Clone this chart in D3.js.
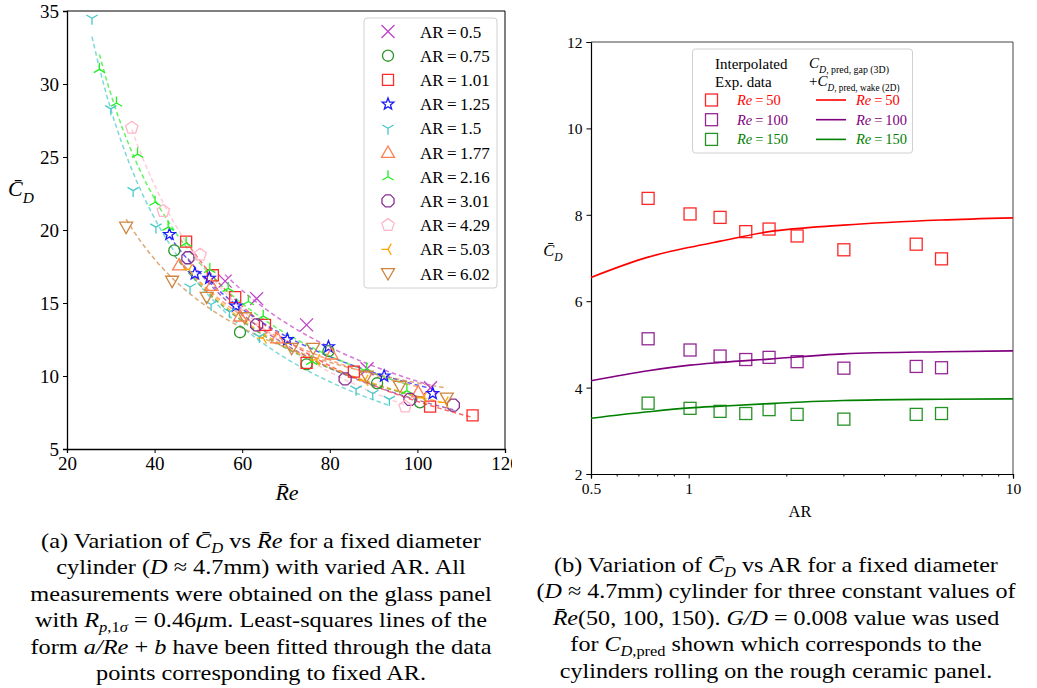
<!DOCTYPE html>
<html>
<head>
<meta charset="utf-8">
<script src="https://cdn.jsdelivr.net/npm/d3@7"></script>
<style>
  body { margin: 0; background: #fff; }
  svg text { font-family: "Liberation Serif", "Times New Roman", Times, "DejaVu Serif", serif; }
</style>
</head>
<body>
<svg id="fig" width="1037" height="688"></svg>
<script>
// ---- left panel data (Re vs Cd for each AR) ----
const arLabels = ["0.5", "0.75", "1.01", "1.25", "1.5", "1.77", "2.16", "3.01", "4.29", "5.03", "6.02"];
const arColors = ["#c040c8", "#2a962a", "#ff2a2a", "#1a1aff", "#45c9c9", "#ff7f50", "#22ee22", "#87308f", "#ffb6c8", "#ffa500", "#cd853f"];
const arMarkers = ["x", "circle", "square", "star", "tridown", "triup", "triup2", "octagon", "pentagon", "trileft", "tridownfill"];

const re050 = [56.1, 63.3, 74.7, 88.5, 103];
const cd050 = [16.5, 15.3, 13.5, 10.5, 9.2];
const re075 = [44.5, 59.5, 74.7, 79.7, 90.8, 100.6];
const cd075 = [18.6, 13.0, 10.8, 11.7, 9.5, 8.2];
const re101 = [47.2, 53.3, 58.4, 65.2, 74.7, 85.5, 102.9, 112.6];
const cd101 = [19.2, 16.9, 15.4, 13.5, 10.9, 10.3, 7.9, 7.3];
const re125 = [43.4, 49.2, 52.5, 58.6, 70.3, 79.7, 92.4, 103.5];
const cd125 = [19.7, 17.0, 16.7, 14.8, 12.5, 12.0, 10.0, 8.8];
const re150 = [25.7, 30.0, 35.1, 40.3, 48.1, 52.9, 57.1, 63.9, 86.0, 89.8, 93.6];
const cd150 = [34.5, 28.3, 22.7, 20.2, 16.1, 14.9, 14.4, 12.7, 9.1, 8.8, 8.4];
const re177 = [45.6, 53.0, 59.5, 68.0, 80.4, 100.2];
const cd177 = [17.6, 16.2, 14.1, 12.6, 11.5, 8.9];
const re216 = [27.4, 31.3, 36.1, 40.1, 43.1, 47.2, 52.6, 56.8, 61.4, 64.8, 75.9, 88.4, 97.6];
const cd216 = [31.0, 28.7, 25.2, 21.9, 20.2, 19.1, 17.3, 16.0, 15.1, 14.1, 11.0, 10.5, 9.0];
const re301 = [47.6, 63.3, 83.5, 98.3, 108.2];
const cd301 = [18.1, 13.5, 9.8, 8.4, 8.0];
const re429 = [34.8, 42.0, 50.4, 97.2];
const cd429 = [27.0, 21.3, 18.3, 7.9];
const re503 = [47.9, 64.8, 77.0, 88.0, 101.3, 106.3];
const cd503 = [17.3, 12.6, 11.1, 9.7, 8.5, 8.2];
const re602 = [33.5, 44.0, 51.9, 60.6, 71.3, 76.2, 88.4, 96.0, 106.7];
const cd602 = [20.2, 16.5, 15.4, 14.0, 11.9, 11.9, 10.0, 9.3, 8.5];

const leftRe = [re050, re075, re101, re125, re150, re177, re216, re301, re429, re503, re602];
const leftCd = [cd050, cd075, cd101, cd125, cd150, cd177, cd216, cd301, cd429, cd503, cd602];
const leftXTicks = [20, 40, 60, 80, 100, 120];
const leftYTicks = [5, 10, 15, 20, 25, 30, 35];

// ---- right panel data (Cd vs AR) ----
const expAR = [0.75, 1.01, 1.25, 1.5, 1.77, 2.16, 3.01, 5.03, 6.02];
const expRe50 = [8.38, 8.02, 7.94, 7.61, 7.67, 7.51, 7.19, 7.32, 6.98];
const expRe100 = [5.13, 4.87, 4.73, 4.65, 4.70, 4.60, 4.45, 4.49, 4.46];
const expRe150 = [3.64, 3.52, 3.45, 3.40, 3.49, 3.38, 3.27, 3.38, 3.40];
const predAR = [0.5, 0.75, 1.01, 1.25, 1.77, 3.0, 6.0, 10.0];
const predRe50 = [6.55, 7.02, 7.25, 7.39, 7.61, 7.76, 7.88, 7.93];
const predRe100 = [4.16, 4.39, 4.52, 4.58, 4.66, 4.78, 4.83, 4.85];
const predRe150 = [3.29, 3.44, 3.53, 3.57, 3.63, 3.70, 3.73, 3.74];
const reLabels = ["50", "100", "150"];
const reColors = ["#ff0000", "#800080", "#008000"];
const rightYTicks = [2, 4, 6, 8, 10, 12];
const rightXTicks = [0.5, 1, 10];

const FONT = '"Liberation Serif", "Times New Roman", Times, "DejaVu Serif", serif';
const svg = d3.select("#fig");

// marker paths, r = half size
function markerPath(kind, r) {
  const p = d3.path();
  const poly = (n, rot) => {
    for (let i = 0; i < n; i++) {
      const a = rot + i * 2 * Math.PI / n;
      const x = r * Math.sin(a), y = -r * Math.cos(a);
      i ? p.lineTo(x, y) : p.moveTo(x, y);
    }
    p.closePath();
  };
  const spokes = (angles) => angles.forEach(a => {
    p.moveTo(0, 0); p.lineTo(r * Math.sin(a), -r * Math.cos(a));
  });
  const deg = Math.PI / 180;
  switch (kind) {
    case "x": p.moveTo(-r, -r); p.lineTo(r, r); p.moveTo(-r, r); p.lineTo(r, -r); break;
    case "circle": p.arc(0, 0, r * 0.85, 0, 2 * Math.PI); break;
    case "square": p.rect(-r * 0.85, -r * 0.85, r * 1.7, r * 1.7); break;
    case "star":
      for (let i = 0; i < 10; i++) {
        const rr = i % 2 ? r * 0.4 : r * 0.95, a = i * Math.PI / 5;
        const x = rr * Math.sin(a), y = -rr * Math.cos(a);
        i ? p.lineTo(x, y) : p.moveTo(x, y);
      }
      p.closePath(); break;
    case "tridown": spokes([180 * deg, -60 * deg, 60 * deg]); break;
    case "triup2": spokes([0, 120 * deg, 240 * deg]); break;
    case "trileft": spokes([270 * deg, 30 * deg, 150 * deg]); break;
    case "triup": p.moveTo(0, -r); p.lineTo(r, r * 0.75); p.lineTo(-r, r * 0.75); p.closePath(); break;
    case "tridownfill": p.moveTo(0, r); p.lineTo(r, -r * 0.75); p.lineTo(-r, -r * 0.75); p.closePath(); break;
    case "octagon": poly(8, Math.PI / 8); break;
    case "pentagon": poly(5, 0); break;
  }
  return p.toString();
}

// mixed-style text: parts of [text, kind]
function rich(sel, parts, fs, subRatio = 0.7, subShift = 0.3) {
  let shift = 0;
  sel.attr("font-family", FONT);
  parts.forEach(([t, k]) => {
    const ts = sel.append("tspan").text(t);
    let target = 0, size = fs;
    if (k.includes("sub")) { target = fs * subShift; size = fs * subRatio; }
    if (k[0] === "i") ts.attr("font-style", "italic");
    ts.attr("font-size", size);
    if (target !== shift) { ts.attr("dy", target - shift); shift = target; }
  });
}

// ================= LEFT PANEL =================
svg.append("clipPath").attr("id", "leftclip")
  .append("rect").attr("x", 0).attr("y", 0).attr("width", 512).attr("height", 520);
const L = svg.append("g").attr("clip-path", "url(#leftclip)");
const lx = d3.scaleLinear().domain([20, 120]).range([67, 505]);
const ly = d3.scaleLinear().domain([5, 35]).range([449, 11]);

L.append("g").attr("transform", "translate(0,449)")
  .call(d3.axisBottom(lx).tickValues(leftXTicks).tickSize(4).tickPadding(4))
  .call(g => g.attr("font-family", FONT).selectAll("text").attr("font-size", 19).attr("fill", "#000"));
L.append("g").attr("transform", "translate(67,0)")
  .call(d3.axisLeft(ly).tickValues(leftYTicks).tickSize(4).tickPadding(4))
  .call(g => g.attr("font-family", FONT).selectAll("text").attr("font-size", 19).attr("fill", "#000").attr("dy", "0.35em"));
L.append("line").attr("x1", 67).attr("x2", 505).attr("y1", 11).attr("y2", 11).attr("stroke", "#000");
L.append("line").attr("x1", 505).attr("x2", 505).attr("y1", 11).attr("y2", 449).attr("stroke", "#000");
L.selectAll(".domain").attr("stroke", "#000").attr("stroke-width", 1.3);

// least-squares fits Cd = a/Re + b through each AR set
leftRe.forEach((res, i) => {
  const cds = leftCd[i];
  const u = res.map(r => 1 / r), n = u.length;
  const mu = d3.mean(u), mc = d3.mean(cds);
  let sxy = 0, sxx = 0;
  for (let k = 0; k < n; k++) { sxy += (u[k] - mu) * (cds[k] - mc); sxx += (u[k] - mu) ** 2; }
  const a = sxy / sxx, b = mc - a * mu;
  const [r0, r1] = d3.extent(res);
  const xs = d3.range(0, 41).map(k => r0 + (r1 - r0) * k / 40);
  L.append("path")
    .attr("d", d3.line().x(r => lx(r)).y(r => ly(a / r + b))(xs))
    .attr("fill", "none").attr("stroke", arColors[i]).attr("stroke-opacity", 0.7)
    .attr("stroke-width", 1.5).attr("stroke-dasharray", "4.5,3");
});

leftRe.forEach((res, i) => {
  L.append("g").selectAll("path").data(res).join("path")
    .attr("transform", (r, k) => `translate(${lx(r)},${ly(leftCd[i][k])})`)
    .attr("d", markerPath(arMarkers[i], 6.5))
    .attr("fill", "none").attr("stroke", arColors[i]).attr("stroke-width", 1.3);
});

L.append("text").attr("x", 21).attr("y", 196).attr("text-anchor", "middle")
  .call(t => rich(t, [["C\u0304", "i"], ["D", "isub"]], 22));
L.append("text").attr("x", 287).attr("y", 500).attr("text-anchor", "middle")
  .call(t => rich(t, [["R\u0304e", "i"]], 22));

// left legend
const LL = L.append("g");
LL.append("rect").attr("x", 364).attr("y", 18).attr("width", 133).attr("height", 270)
  .attr("rx", 3).attr("fill", "#fff").attr("stroke", "#d0d0d0");
arLabels.forEach((lab, i) => {
  const y = 31.5 + i * 24.2;
  LL.append("path").attr("transform", `translate(388,${y})`)
    .attr("d", markerPath(arMarkers[i], 6.5))
    .attr("fill", "none").attr("stroke", arColors[i]).attr("stroke-width", 1.3);
  LL.append("text").attr("x", 420).attr("y", y + 6).attr("font-size", 17).attr("font-family", FONT)
    .text("AR\u2009=\u2009" + lab);
});

// ================= RIGHT PANEL =================
const R = svg.append("g");
const rx = d3.scaleLog().domain([0.5, 10]).range([591, 1013]);
const ry = d3.scaleLinear().domain([2, 12]).range([474, 42]);

const minorX = [0.6, 0.7, 0.8, 0.9, 2, 3, 4, 5, 6, 7, 8, 9];
R.append("g").attr("transform", "translate(0,474)")
  .call(d3.axisBottom(rx).tickValues(minorX).tickSize(2.5).tickFormat(""));
R.append("g").attr("transform", "translate(0,474)")
  .call(d3.axisBottom(rx).tickValues(rightXTicks).tickSize(4.5).tickPadding(4).tickFormat(d3.format("")))
  .call(g => g.attr("font-family", FONT).selectAll("text").attr("font-size", 15.5).attr("fill", "#000"));
R.append("g").attr("transform", "translate(591,0)")
  .call(d3.axisLeft(ry).tickValues(rightYTicks).tickSize(4.5).tickPadding(4))
  .call(g => g.attr("font-family", FONT).selectAll("text").attr("font-size", 15.5).attr("fill", "#000").attr("dy", "0.35em"));
R.selectAll(".domain").attr("stroke", "#000").attr("stroke-width", 1.2);
R.append("line").attr("x1", 591).attr("x2", 1013).attr("y1", 42).attr("y2", 42).attr("stroke", "#444");
R.append("line").attr("x1", 1013).attr("x2", 1013).attr("y1", 42).attr("y2", 474).attr("stroke", "#444");

const expSets = [expRe50, expRe100, expRe150];
const predSets = [predRe50, predRe100, predRe150];
const predLine = d3.line().x((a) => rx(a)).curve(d3.curveMonotoneX);
predSets.forEach((vals, i) => {
  R.append("path")
    .attr("d", predLine.y((a, k) => ry(vals[k]))(predAR))
    .attr("fill", "none").attr("stroke", reColors[i]).attr("stroke-width", 1.6);
});
expSets.forEach((vals, i) => {
  R.append("g").selectAll("rect").data(expAR).join("rect")
    .attr("x", a => rx(a) - 6).attr("y", (a, k) => ry(vals[k]) - 6)
    .attr("width", 12).attr("height", 12)
    .attr("fill", "none").attr("stroke", reColors[i]).attr("stroke-opacity", 0.85).attr("stroke-width", 1.3);
});

R.append("text").attr("x", 800).attr("y", 517).attr("text-anchor", "middle").attr("font-size", 16.5)
  .attr("font-family", FONT).text("AR");
R.append("text").attr("x", 553).attr("y", 256).attr("text-anchor", "middle")
  .call(t => rich(t, [["C\u0304", "i"], ["D", "isub"]], 16.5));

// right legend
const RL = R.append("g");
RL.append("rect").attr("x", 692.5).attr("y", 49).attr("width", 220).attr("height", 104)
  .attr("rx", 3).attr("fill", "#fff").attr("stroke", "#d0d0d0");
RL.append("text").attr("x", 715).attr("y", 69).attr("font-size", 15).attr("font-family", FONT).text("Interpolated");
RL.append("text").attr("x", 715).attr("y", 87).attr("font-size", 15).attr("font-family", FONT).text("Exp.  data");
RL.append("text").attr("x", 809).attr("y", 68)
  .call(t => rich(t, [["C", "i"], ["D", "isub"], [", pred, gap (3D)", "sub"]], 15, 0.66));
RL.append("text").attr("x", 809).attr("y", 86)
  .call(t => rich(t, [["+", "n"], ["C", "i"], ["D", "isub"], [", pred, wake (2D)", "sub"]], 15, 0.62));
reLabels.forEach((lab, i) => {
  const y = 100 + i * 19.7;
  RL.append("rect").attr("x", 705.5).attr("y", y - 6).attr("width", 12).attr("height", 12)
    .attr("fill", "none").attr("stroke", reColors[i]).attr("stroke-opacity", 0.85).attr("stroke-width", 1.3);
  RL.append("text").attr("x", 737).attr("y", y + 5).attr("fill", reColors[i])
    .call(t => rich(t, [["Re", "i"], ["\u2009=\u2009" + lab, "n"]], 14.5));
  RL.append("line").attr("x1", 816).attr("x2", 846).attr("y1", y).attr("y2", y)
    .attr("stroke", reColors[i]).attr("stroke-width", 1.6);
  RL.append("text").attr("x", 856).attr("y", y + 5).attr("fill", reColors[i])
    .call(t => rich(t, [["Re", "i"], ["\u2009=\u2009" + lab, "n"]], 14.5));
});

// ================= CAPTIONS =================
const capA = [
  [["(a) Variation of ", "n"], ["C\u0304", "i"], ["D", "isub"], [" vs ", "n"], ["R\u0304e", "i"], [" for a fixed diameter", "n"]],
  [["cylinder (", "n"], ["D", "i"], [" \u2248 4.7mm) with varied AR. All", "n"]],
  [["measurements were obtained on the glass panel", "n"]],
  [["with ", "n"], ["R", "i"], ["p", "isub"], [",1", "sub"], ["\u03c3", "isub"], [" = 0.46", "n"], ["\u03bc", "i"], ["m. Least-squares lines of the", "n"]],
  [["form ", "n"], ["a/Re", "i"], [" + ", "n"], ["b", "i"], [" have been fitted through the data", "n"]],
  [["points corresponding to fixed AR.", "n"]]
];
const capB = [
  [["(b) Variation of ", "n"], ["C\u0304", "i"], ["D", "isub"], [" vs AR for a fixed diameter", "n"]],
  [["(", "n"], ["D", "i"], [" \u2248 4.7mm) cylinder for three constant values of", "n"]],
  [["R\u0304e", "i"], ["(50, 100, 150). ", "n"], ["G/D", "i"], [" = 0.008 value was used", "n"]],
  [["for ", "n"], ["C", "i"], ["D", "isub"], [",pred", "sub"], [" shown which corresponds to the", "n"]],
  [["cylinders rolling on the rough ceramic panel.", "n"]]
];
const capAY = [548, 574.5, 601, 627.5, 654, 680.5];
const capBY = [572, 598.5, 625, 651.5, 678];

// caption block: 21.5px text, stretched sideways so line 1 spans the width seen in the figure
function caption(lines, ys, cx, firstWidth) {
  const g = svg.append("g");
  lines.forEach((parts, i) => {
    g.append("text").attr("x", 0).attr("y", ys[i]).attr("text-anchor", "middle")
      .call(t => rich(t, parts, 21.5, 0.68, 0.22));
  });
  const w = g.select("text").node().getComputedTextLength();
  const sx = Math.max(0.9, Math.min(1.15, firstWidth / w));
  g.attr("transform", `translate(${cx},0) scale(${sx},1)`);
}
caption(capA, capAY, 261, 440);
caption(capB, capBY, 776, 444);
</script>
</body>
</html>
